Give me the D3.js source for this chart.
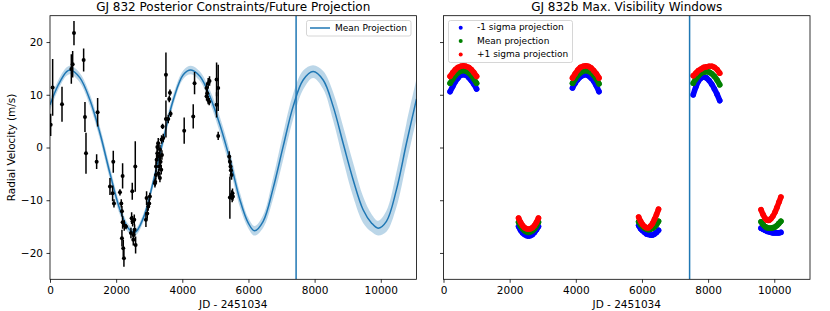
<!DOCTYPE html>
<html><head><meta charset="utf-8">
<script src="https://cdn.jsdelivr.net/npm/d3@7"></script>
<style>body{margin:0;background:#fff} svg{display:block} text{font-family:"DejaVu Sans",sans-serif;fill:#000}</style>
</head><body><svg id="c" width="830" height="311"></svg>
<script>
// ---- data ----
const xDomain = [0, 11080];
const yDomain = [-25, 25];
const xTicks = [0, 2000, 4000, 6000, 8000, 10000];
const yTicks = [-20, -10, 0, 10, 20];
const todayJD = 7440;

// mean model projection (JD - 2451034, m/s) and half-width of the shaded band
const modelT = [0, 252, 503, 624, 906, 1208, 1511, 1813, 2115, 2366, 2568, 2820, 3121, 3424, 3726, 4028, 4260, 4532, 4834, 5136, 5438, 5740, 5992, 6183, 6445, 6747, 7049, 7351, 7653, 7955, 8258, 8560, 8862, 9164, 9466, 9718, 9920, 10171, 10474, 10776, 11080];
const modelV = [8.1, 11.9, 14.4, 14.7, 13.2, 9.0, 2.7, -4.9, -11.8, -15.3, -16.1, -13.4, -6.5, 1.5, 9.0, 13.8, 14.7, 13.5, 9.7, 4.3, -2.3, -9.9, -14.3, -15.8, -14.0, -7.7, 0.2, 7.8, 12.8, 14.4, 12.8, 7.8, 0.8, -6.1, -11.8, -14.3, -15.3, -14.0, -8.0, 0.8, 9.2];
const modelW = [1.0, 0.9, 0.8, 0.8, 0.9, 1.1, 1.2, 1.2, 1.0, 0.8, 0.7, 0.8, 1.0, 1.1, 1.0, 0.8, 0.8, 0.9, 1.2, 1.5, 1.6, 1.4, 1.0, 0.9, 1.2, 2.0, 2.5, 2.4, 1.8, 1.2, 1.7, 2.7, 3.2, 3.2, 2.5, 1.7, 1.4, 2.0, 3.3, 3.8, 3.8];

// observed radial velocities with 1-sigma errors
const obsT = [20, 80, 363, 645, 685, 725, 1017, 1057, 1088, 1410, 1440, 1813, 1893, 1913, 1934, 2115, 2155, 2175, 2195, 2195, 2175, 2215, 2235, 2245, 2296, 2447, 2468, 2487, 2497, 2518, 2528, 2558, 2548, 2578, 2588, 2900, 2920, 2940, 2970, 3000, 3020, 3172, 3182, 3202, 3205, 3223, 3243, 3245, 3273, 3303, 3300, 3323, 3323, 3343, 3363, 3384, 3280, 3373, 3424, 3404, 3505, 3505, 3575, 3605, 3625, 3646, 4057, 4330, 4370, 4733, 4753, 4783, 4733, 4783, 4813, 4823, 5036, 5085, 5036, 5085, 5418, 5438, 5458, 5468, 5488, 5438, 5488, 5518, 5528, 5508];
const obsV = [4.3, 11.4, 8.2, 14.9, 15.8, 21.7, 16.6, 5.8, -1.1, -2.7, 6.7, -7.4, -8.7, -2.7, -10.6, -8.5, -10.6, -12.1, -14.2, -5.4, -17.2, -19.1, -21.0, -14.8, -15.0, -16.2, -13.4, -8.3, -14.0, -17.5, -16.6, -15.6, -13.7, -3.6, -18.5, -13.7, -9.6, -12.5, -11.2, -10.6, -9.3, -6.8, -6.5, -5.2, -3.6, -2.3, -1.1, 0.1, 0.8, -1.7, -3.6, -0.4, -5.8, -2.7, -4.2, -1.4, -4.9, 1.5, 1.8, 4.0, 5.4, 13.8, 5.4, 9.2, 10.4, 6.4, 3.2, 5.9, 12.2, 11.3, 10.3, 12.2, 9.7, 9.0, 8.7, 12.6, 12.9, 11.3, 8.1, 2.2, -1.7, -2.7, -3.6, -4.3, -5.2, -9.5, -9.0, -8.7, -9.3, -9.5];
const obsErr = [2.1, 5.4, 3.3, 2.8, 2.5, 2.3, 2.2, 2.85, 3.9, 1.4, 2.7, 1.6, 1.5, 2.1, 0.8, 0.6, 0.8, 1.0, 1.2, 2.4, 1.6, 1.6, 1.6, 1.0, 0.5, 1.0, 1.1, 1.6, 1.0, 1.1, 0.9, 1.0, 1.0, 4.8, 1.6, 1.4, 1.3, 1.0, 0.8, 0.8, 0.7, 0.8, 0.8, 0.9, 1.0, 0.9, 1.2, 1.0, 1.0, 0.9, 0.8, 0.9, 0.8, 1.0, 0.9, 0.9, 0.8, 0.8, 0.8, 0.5, 3.5, 4.2, 0.8, 0.6, 0.6, 0.6, 2.5, 2.3, 2.1, 1.0, 0.8, 1.0, 0.8, 0.8, 0.7, 0.9, 3.2, 4.4, 2.4, 0.8, 1.0, 1.0, 1.0, 0.8, 0.9, 4.0, 0.9, 0.9, 0.8, 0.9];

// maximum-visibility windows: sample times and projected RV
const winT = [
  [200, 280, 360, 440, 520, 600, 680, 760, 840, 920, 1000],
  [2270, 2330, 2390, 2450, 2510, 2570, 2630, 2690, 2750, 2810, 2870],
  [3900, 3980, 4060, 4140, 4220, 4300, 4380, 4460, 4540, 4620, 4700],
  [5900, 5960, 6020, 6080, 6140, 6200, 6260, 6320, 6380, 6440, 6500],
  [7550, 7630, 7710, 7790, 7870, 7950, 8030, 8110, 8190, 8270, 8350],
  [9600, 9660, 9720, 9780, 9840, 9900, 9960, 10020, 10080, 10140, 10200]
];
const minusSigma = [
  [10.6, 11.6, 12.5, 13.2, 13.7, 13.8, 13.7, 13.3, 12.7, 12.0, 11.1],
  [-15.0, -15.7, -16.2, -16.5, -16.7, -16.8, -16.7, -16.5, -16.1, -15.6, -15.0],
  [11.3, 12.2, 12.9, 13.4, 13.7, 13.8, 13.6, 13.2, 12.6, 11.7, 10.6],
  [-14.8, -15.4, -15.8, -16.1, -16.4, -16.5, -16.6, -16.6, -16.4, -16.1, -15.7],
  [10.0, 11.5, 12.6, 13.2, 13.4, 13.2, 12.7, 12.0, 11.1, 10.1, 8.9],
  [-15.3, -15.5, -15.7, -15.9, -16.0, -16.1, -16.2, -16.2, -16.2, -16.2, -16.1]
];
const meanProj = [
  [12.2, 13.0, 13.7, 14.2, 14.5, 14.6, 14.5, 14.2, 13.7, 13.0, 12.2],
  [-14.2, -14.9, -15.4, -15.8, -16.0, -16.1, -16.0, -15.8, -15.4, -14.9, -14.2],
  [12.2, 13.0, 13.7, 14.2, 14.5, 14.6, 14.5, 14.2, 13.7, 13.0, 12.1],
  [-14.1, -14.6, -15.0, -15.3, -15.5, -15.6, -15.5, -15.3, -15.0, -14.6, -14.0],
  [12.2, 13.0, 13.6, 14.1, 14.3, 14.4, 14.3, 14.0, 13.5, 12.8, 11.9],
  [-14.1, -14.6, -15.0, -15.2, -15.3, -15.3, -15.2, -15.1, -14.8, -14.4, -14.0]
];
const plusSigma = [
  [13.5, 14.2, 14.8, 15.2, 15.4, 15.5, 15.4, 15.2, 14.8, 14.2, 13.5],
  [-13.4, -14.2, -14.8, -15.2, -15.4, -15.5, -15.4, -15.2, -14.8, -14.2, -13.4],
  [13.2, 14.0, 14.7, 15.2, 15.4, 15.5, 15.4, 15.1, 14.6, 14.0, 13.2],
  [-13.2, -14.0, -14.6, -15.0, -15.2, -15.2, -14.9, -14.4, -13.6, -12.7, -11.7],
  [13.6, 14.1, 14.6, 14.9, 15.2, 15.3, 15.4, 15.4, 15.2, 14.8, 14.1],
  [-11.8, -12.7, -13.4, -13.8, -13.8, -13.5, -13.0, -12.3, -11.4, -10.4, -9.4]
];
const projSeries = [
  {name: "-1 sigma projection", color: "#0000ff", vals: minusSigma},
  {name: "Mean projection", color: "#008000", vals: meanProj},
  {name: "+1 sigma projection", color: "#ff0000", vals: plusSigma}
];

// ---- drawing ----
const svg = d3.select("#c");
const yTop = 15.7, yBot = 279.3;
const panels = [{l: 50, r: 416.5}, {l: 443.5, r: 810}];
const y = d3.scaleLinear().domain(yDomain).range([yBot, yTop]);
const fmt = d3.format("d");

function frame(p, i) {
  const x = d3.scaleLinear().domain(xDomain).range([p.l, p.r]);
  svg.append("clipPath").attr("id", "clip" + i).append("rect")
    .attr("x", p.l).attr("y", yTop).attr("width", p.r - p.l).attr("height", yBot - yTop);
  return x;
}
function axes(x, p, showYLabels) {
  const gx = svg.append("g").attr("transform", `translate(0,${yBot})`)
    .call(d3.axisBottom(x).tickValues(xTicks).tickFormat(fmt).tickSize(3.5).tickPadding(3.5));
  const gy = svg.append("g").attr("transform", `translate(${p.l},0)`)
    .call(d3.axisLeft(y).tickValues(yTicks).tickFormat(showYLabels ? fmt : "").tickSize(3.5).tickPadding(3.5));
  [gx, gy].forEach(g => {
    g.select(".domain").remove();
    g.selectAll("line").attr("stroke", "#000").attr("stroke-width", 0.8);
    g.selectAll("text").attr("font-size", 10.5).attr("font-family", "DejaVu Sans").attr("fill", "#000");
  });
  svg.append("rect").attr("x", p.l).attr("y", yTop).attr("width", p.r - p.l).attr("height", yBot - yTop)
    .attr("fill", "none").attr("stroke", "#000").attr("stroke-width", 0.8);
  svg.append("text").attr("x", (p.l + p.r) / 2).attr("y", 305).attr("text-anchor", "middle")
    .attr("dominant-baseline", "middle").attr("font-size", 10.5).text("JD - 2451034");
}

// left panel
const xL = frame(panels[0], 0);
const gL = svg.append("g").attr("clip-path", "url(#clip0)");
const modelData = modelT.map((t, i) => ({t, v: modelV[i], w: modelW[i]}));
gL.append("path").datum(modelData)
  .attr("d", d3.area().x(d => xL(d.t)).y0(d => y(d.v - d.w)).y1(d => y(d.v + d.w)).curve(d3.curveCatmullRom.alpha(0.5)))
  .attr("fill", "#1f77b4").attr("fill-opacity", 0.3);
gL.append("path").datum(modelData)
  .attr("d", d3.line().x(d => xL(d.t)).y(d => y(d.v)).curve(d3.curveCatmullRom.alpha(0.5)))
  .attr("fill", "none").attr("stroke", "#1f77b4").attr("stroke-width", 1.5);
const obs = obsT.map((t, i) => ({t, v: obsV[i], e: obsErr[i]}));
gL.selectAll("line.err").data(obs).join("line").attr("class", "err")
  .attr("x1", d => xL(d.t)).attr("x2", d => xL(d.t))
  .attr("y1", d => y(d.v - d.e)).attr("y2", d => y(d.v + d.e))
  .attr("stroke", "#000").attr("stroke-width", 1.5);
gL.selectAll("circle.obs").data(obs).join("circle").attr("class", "obs")
  .attr("cx", d => xL(d.t)).attr("cy", d => y(d.v)).attr("r", 2).attr("fill", "#000");
gL.append("line").attr("x1", xL(todayJD)).attr("x2", xL(todayJD)).attr("y1", yTop).attr("y2", yBot)
  .attr("stroke", "#1f77b4").attr("stroke-width", 1.5);
axes(xL, panels[0], true);
svg.append("text").attr("x", (panels[0].l + panels[0].r) / 2).attr("y", 7).attr("text-anchor", "middle")
  .attr("dominant-baseline", "middle").attr("font-size", 12).text("GJ 832 Posterior Constraints/Future Projection");
svg.append("text").attr("transform", `translate(12,${(yTop + yBot) / 2}) rotate(-90)`).attr("text-anchor", "middle")
  .attr("dominant-baseline", "middle").attr("font-size", 10.5).text("Radial Velocity (m/s)");
// left legend
const lg = svg.append("g");
lg.append("rect").attr("x", 306.5).attr("y", 20.5).attr("width", 104.5).attr("height", 15.5).attr("rx", 2)
  .attr("fill", "#fff").attr("fill-opacity", 0.8).attr("stroke", "#ccc").attr("stroke-width", 0.8);
lg.append("line").attr("x1", 310).attr("x2", 330).attr("y1", 28).attr("y2", 28).attr("stroke", "#1f77b4").attr("stroke-width", 1.5);
lg.append("text").attr("x", 335).attr("y", 28).attr("dominant-baseline", "middle").attr("font-size", 9).text("Mean Projection");

// right panel: dense scatter of projected RV within each window
const xR = frame(panels[1], 1);
const gR = svg.append("g").attr("clip-path", "url(#clip1)");
const arcLine = d3.line().x(d => xR(d.t)).y(d => y(d.v)).curve(d3.curveCatmullRom.alpha(0.5));
projSeries.forEach(s => {
  const g = gR.append("g");
  winT.forEach((ts, w) => {
    const pts = ts.map((t, k) => ({t, v: s.vals[w][k]}));
    g.append("path").datum(pts).attr("d", arcLine).attr("fill", "none").attr("stroke", s.color)
      .attr("stroke-width", 5.6).attr("stroke-linecap", "round").attr("stroke-linejoin", "round");
    g.selectAll(null).data(pts).join("circle")
      .attr("cx", d => xR(d.t)).attr("cy", d => y(d.v)).attr("r", 2.8).attr("fill", s.color);
  });
});
gR.append("line").attr("x1", xR(todayJD)).attr("x2", xR(todayJD)).attr("y1", yTop).attr("y2", yBot)
  .attr("stroke", "#1f77b4").attr("stroke-width", 1.5);
axes(xR, panels[1], false);
svg.append("text").attr("x", (panels[1].l + panels[1].r) / 2).attr("y", 7).attr("text-anchor", "middle")
  .attr("dominant-baseline", "middle").attr("font-size", 12).text("GJ 832b Max. Visibility Windows");
const rg = svg.append("g");
rg.append("rect").attr("x", 448.5).attr("y", 20.5).attr("width", 124).attr("height", 42).attr("rx", 2)
  .attr("fill", "#fff").attr("fill-opacity", 0.8).attr("stroke", "#ccc").attr("stroke-width", 0.8);
projSeries.forEach((s, i) => {
  const yy = 27.8 + i * 13.3;
  rg.append("circle").attr("cx", 460.7).attr("cy", yy).attr("r", 2).attr("fill", s.color);
  rg.append("text").attr("x", 477).attr("y", yy).attr("dominant-baseline", "middle").attr("font-size", 9).text(s.name);
});
</script></body></html>
